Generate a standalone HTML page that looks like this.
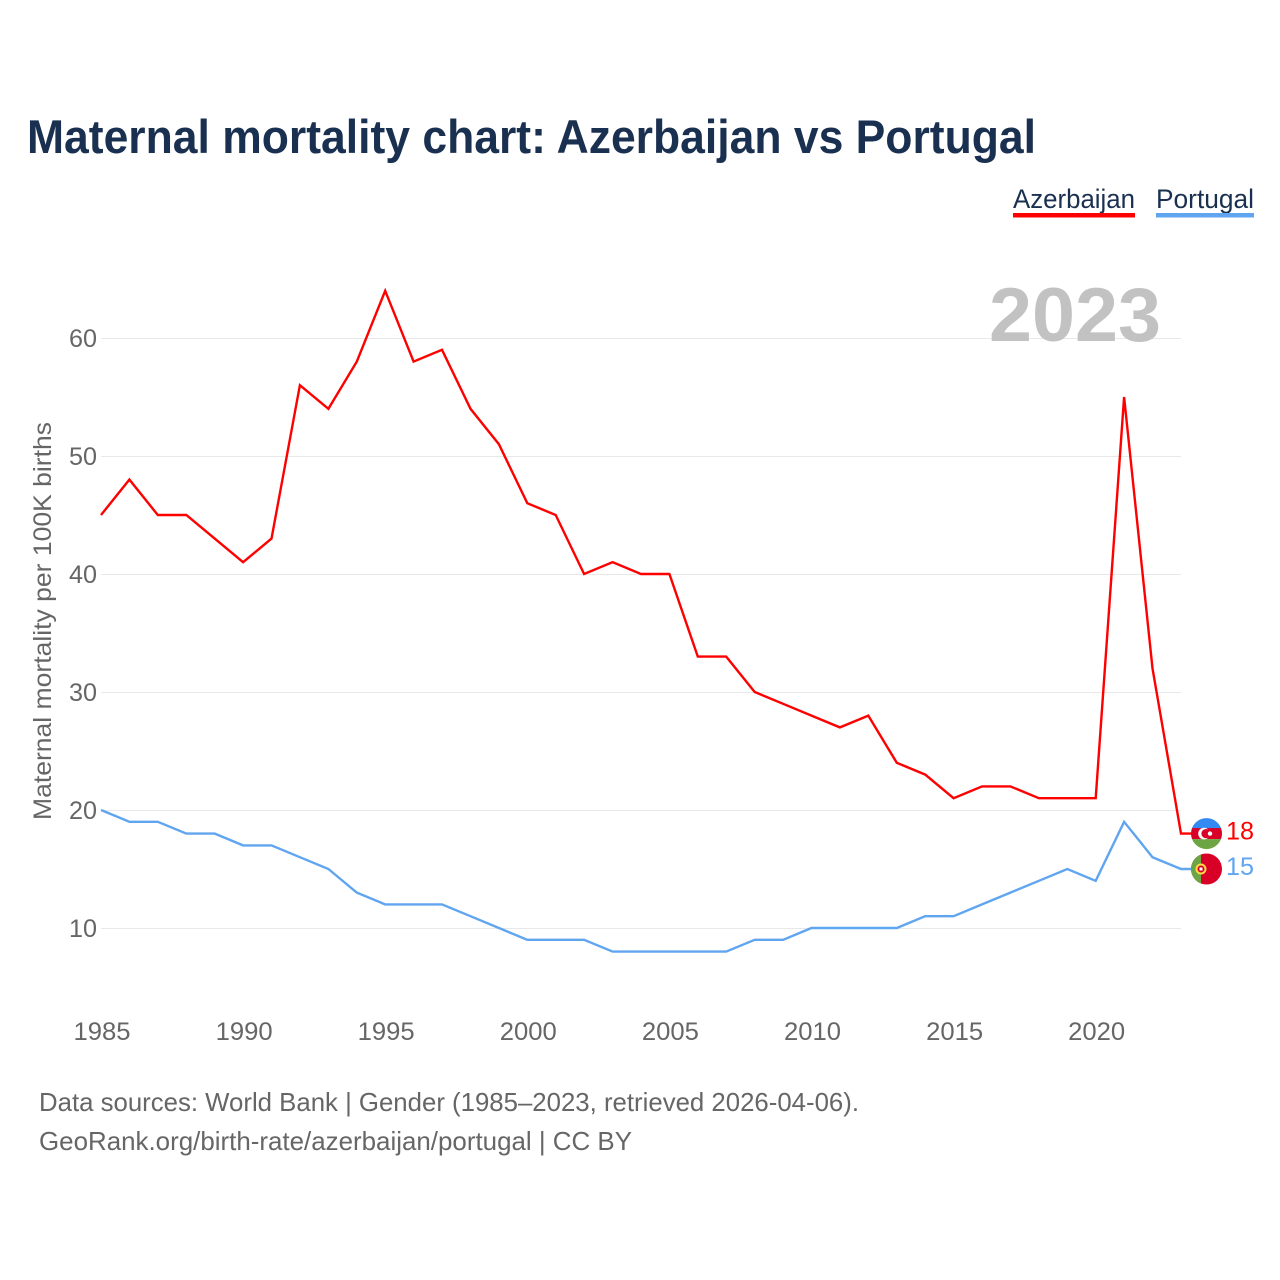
<!DOCTYPE html>
<html lang="en">
<head>
<meta charset="utf-8">
<title>Maternal mortality chart: Azerbaijan vs Portugal</title>
<style>
html,body{margin:0;padding:0;background:#fff;}
svg{display:block;font-family:"Liberation Sans",sans-serif;}
</style>
</head>
<body>
<svg id="chart" width="1280" height="1280" viewBox="0 0 1280 1280" xmlns="http://www.w3.org/2000/svg">
  <rect width="1280" height="1280" fill="#ffffff"/>
  <text x="27" y="153" font-size="47" font-weight="700" fill="#1a3050" textLength="1009" lengthAdjust="spacingAndGlyphs">Maternal mortality chart: Azerbaijan vs Portugal</text>
  <g>
    <text x="1013" y="208" font-size="27" fill="#1a3050" textLength="122" lengthAdjust="spacingAndGlyphs">Azerbaijan</text>
    <rect x="1013" y="213" width="122" height="4.5" fill="#ff0000"/>
  </g>
  <g>
    <text x="1156" y="208" font-size="27" fill="#1a3050" textLength="98" lengthAdjust="spacingAndGlyphs">Portugal</text>
    <rect x="1156" y="213" width="98" height="4.5" fill="#60a5ef"/>
  </g>
  <g id="grid"></g>
  <text x="1161" y="341" font-size="76" font-weight="700" fill="#c2c2c2" text-anchor="end" textLength="172" lengthAdjust="spacingAndGlyphs">2023</text>
  <g id="yticks"></g>
  <g id="xticks"></g>
  <text transform="translate(51,621) rotate(-90)" font-size="25" fill="#666666" text-anchor="middle" textLength="398" lengthAdjust="spacingAndGlyphs">Maternal mortality per 100K births</text>
  <g id="series"></g>
  <g id="flags"></g>
  <text x="39" y="1111" font-size="26" fill="#666666" textLength="820" lengthAdjust="spacingAndGlyphs">Data sources: World Bank | Gender (1985–2023, retrieved 2026-04-06).</text>
  <text x="39" y="1150" font-size="26" fill="#666666" textLength="593" lengthAdjust="spacingAndGlyphs">GeoRank.org/birth-rate/azerbaijan/portugal | CC BY</text>
</svg>
<script>
const startYear = 1985;
const azerbaijanValues = [45,48,45,45,43,41,43,56,54,58,64,58,59,54,51,46,45,40,41,40,40,33,33,30,29,28,27,28,24,23,21,22,22,21,21,21,55,32,18];
const portugalValues = [20,19,19,18,18,17,17,16,15,13,12,12,12,11,10,9,9,9,8,8,8,8,8,9,9,10,10,10,10,11,11,12,13,14,15,14,19,16,15];
const yTickValues = [10,20,30,40,50,60];
const xTickYears = [1985,1990,1995,2000,2005,2010,2015,2020];

const NS = 'http://www.w3.org/2000/svg';
function xScale(year){ return 101 + (year - 1985) * 28.42; }
function yScale(v){ return 1046 - v * 11.8; }
function make(tag, attrs, parent){
  const el = document.createElementNS(NS, tag);
  for (const k in attrs) el.setAttribute(k, attrs[k]);
  parent.appendChild(el);
  return el;
}

const grid = document.getElementById('grid');
const yticks = document.getElementById('yticks');
yTickValues.forEach(function(v){
  const gy = Math.round(yScale(v)) + 0.5;
  const line = make('line', {x1:101, x2:1181, y1:gy, y2:gy, stroke:'#e8e8e8', 'stroke-width':1}, grid);
  
  
  const t = make('text', {x:97, y:yScale(v)+9, 'font-size':25, fill:'#666666', 'text-anchor':'end', textLength:28, lengthAdjust:'spacingAndGlyphs'}, yticks);
  
  
  t.textContent = v;
});

const xticks = document.getElementById('xticks');
xTickYears.forEach(function(y){
  const t = make('text', {x:xScale(y)+1, y:1040, 'font-size':25, fill:'#666666', 'text-anchor':'middle', textLength:57, lengthAdjust:'spacingAndGlyphs'}, xticks);
  
  
  t.textContent = y;
});

const series = document.getElementById('series');
function drawLine(values, color, name, width){
  const pts = values.map(function(v, i){ return xScale(startYear + i).toFixed(1) + ',' + yScale(v).toFixed(1); });
  const lastY = yScale(values[values.length - 1]).toFixed(1);
  pts.push('1192,' + lastY);
  const p = make('polyline', {points:pts.join(' '), fill:'none', stroke:color, 'stroke-width':width, 'stroke-linejoin':'miter'}, series);
  
  
}
drawLine(portugalValues, '#60a5ef', 'line-portugal', 2.4);
drawLine(azerbaijanValues, '#ff0000', 'line-azerbaijan', 2.4);

const flags = document.getElementById('flags');
const defs = make('defs', {}, flags);
function clipFor(id, cy){
  const c = make('clipPath', {id:id}, defs);
  make('circle', {cx:1206.5, cy:cy, r:15.5}, c);
}

const azY = yScale(azerbaijanValues[azerbaijanValues.length - 1]);
clipFor('clip-az', azY);
const azFlag = make('g', {'clip-path':'url(#clip-az)'}, flags);


make('rect', {x:1190, y:azY-17, width:34, height:12, fill:'#338af3'}, azFlag);
make('rect', {x:1190, y:azY-5.5, width:34, height:11, fill:'#d80027'}, azFlag);
make('rect', {x:1190, y:azY+5.5, width:34, height:12, fill:'#6da544'}, azFlag);
make('circle', {cx:1204, cy:azY, r:5.8, fill:'#ffffff'}, azFlag);
make('circle', {cx:1206, cy:azY, r:4.6, fill:'#d80027'}, azFlag);
make('circle', {cx:1210, cy:azY, r:2.2, fill:'#ffffff'}, azFlag);

const ptY = yScale(portugalValues[portugalValues.length - 1]);
clipFor('clip-pt', ptY);
const ptFlag = make('g', {'clip-path':'url(#clip-pt)'}, flags);


make('rect', {x:1190, y:ptY-17, width:34, height:34, fill:'#d80027'}, ptFlag);
make('rect', {x:1190, y:ptY-17, width:11, height:34, fill:'#6da544'}, ptFlag);
make('circle', {cx:1201, cy:ptY, r:4.5, fill:'#d80027', stroke:'#ffda44', 'stroke-width':2}, ptFlag);
make('rect', {x:1199.5, y:ptY-1.5, width:3, height:3, fill:'#ffffff'}, ptFlag);

function endLabel(value, color, name, y){
  const t = make('text', {x:1226, y:y+8.5, 'font-size':25, fill:color, textLength:28, lengthAdjust:'spacingAndGlyphs'}, flags);
  
  
  t.textContent = value;
}
endLabel(azerbaijanValues[azerbaijanValues.length - 1], '#ff0000', 'end-value-azerbaijan', azY - 2.5);
endLabel(portugalValues[portugalValues.length - 1], '#60a5ef', 'end-value-portugal', ptY - 2.5);
</script>
</body>
</html>
